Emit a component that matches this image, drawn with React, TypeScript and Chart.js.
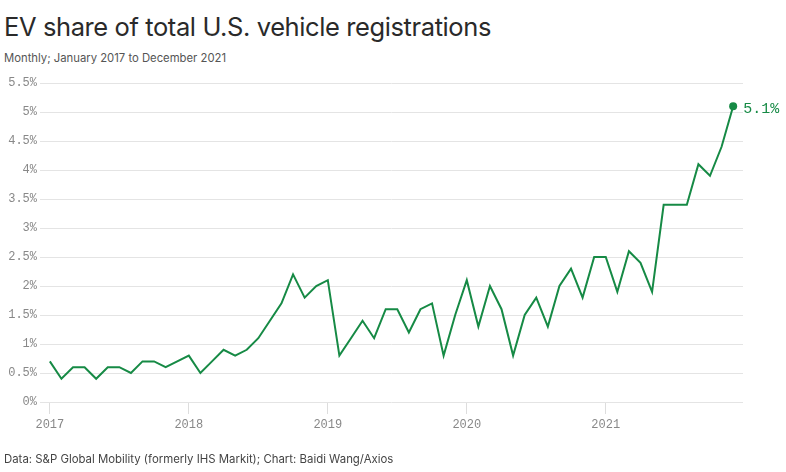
import React, { useEffect, useRef } from "react";
import { Chart, registerables } from "chart.js";

Chart.register(...registerables);

const months: number[] = Array.from({ length: 60 }, (_, i) => i);
const yearTickIndex: number[] = [0, 12, 24, 36, 48];
const yearLabels: string[] = ["2017", "2018", "2019", "2020", "2021"];

const share2017: number[] = [0.7, 0.4, 0.6, 0.6, 0.4, 0.6, 0.6, 0.5, 0.7, 0.7, 0.6, 0.7];
const share2018: number[] = [0.8, 0.5, 0.7, 0.9, 0.8, 0.9, 1.1, 1.4, 1.7, 2.2, 1.8, 2.0];
const share2019: number[] = [2.1, 0.8, 1.1, 1.4, 1.1, 1.6, 1.6, 1.2, 1.6, 1.7, 0.8, 1.5];
const share2020: number[] = [2.1, 1.3, 2.0, 1.6, 0.8, 1.5, 1.8, 1.3, 2.0, 2.3, 1.8, 2.5];
const share2021: number[] = [2.5, 1.9, 2.6, 2.4, 1.9, 3.4, 3.4, 3.4, 4.1, 3.9, 4.4, 5.1];
const evShare: number[] = [...share2017, ...share2018, ...share2019, ...share2020, ...share2021];

const GREEN = "#168a45";
const MONO = "'Liberation Mono', 'DejaVu Sans Mono', monospace";
const SANS = "Inter, 'Noto Sans', sans-serif";

export default function App() {
  const ref = useRef<HTMLCanvasElement | null>(null);

  useEffect(() => {
    if (!ref.current) return;
    const last = evShare.length - 1;
    const endLabel = {
      id: "endLabel",
      afterDatasetsDraw(chart: any) {
        const meta = chart.getDatasetMeta(0);
        const pt = meta.data[last];
        if (!pt) return;
        const c = chart.ctx;
        c.save();
        c.fillStyle = GREEN;
        c.font = "15px " + MONO;
        c.textAlign = "left";
        c.textBaseline = "middle";
        c.fillText(evShare[last].toFixed(1) + "%", pt.x + 10, pt.y + 3);
        c.restore();
      },
    };
    const chart = new Chart(ref.current, {
      type: "line",
      data: {
        datasets: [
          {
            data: months.map((m, i) => ({ x: m, y: evShare[i] })),
            borderColor: GREEN,
            backgroundColor: GREEN,
            borderWidth: 2,
            tension: 0,
            pointRadius: (ctx: any) => (ctx.dataIndex === last ? 4 : 0),
            pointHoverRadius: 0,
            pointBorderWidth: 0,
            clip: false as any,
          },
        ],
      },
      options: {
        animation: false,
        responsive: false,
        events: [],
        layout: { padding: { top: 83, right: 43, left: 0, bottom: 0 } },
        plugins: {
          legend: { display: false },
          tooltip: { enabled: false },
          title: { display: false },
        },
        scales: {
          x: {
            type: "linear",
            min: -0.85,
            max: 59.85,
            afterBuildTicks: (axis: any) => {
              axis.ticks = yearTickIndex.map((v) => ({ value: v }));
            },
            afterFit: (scale: any) => {
              scale.height = 70;
            },
            border: { display: false },
            grid: {
              drawOnChartArea: false,
              drawTicks: true,
              tickLength: 12,
              color: "#dddddd",
              lineWidth: 1,
            },
            ticks: {
              autoSkip: false,
              maxRotation: 0,
              padding: 4,
              color: "#888888",
              font: { family: MONO, size: 12 },
              callback: (v: any) => {
                const idx = yearTickIndex.indexOf(Number(v));
                return idx >= 0 ? yearLabels[idx] : "";
              },
            },
          },
          y: {
            min: 0,
            max: 5.5,
            afterFit: (scale: any) => {
              scale.width = 40;
            },
            border: { display: false },
            grid: { color: "#e4e4e4", lineWidth: 1, drawTicks: false },
            ticks: {
              stepSize: 0.5,
              padding: 3,
              color: "#888888",
              font: { family: MONO, size: 12 },
              callback: (v: any) => Number(v) + "%",
            },
          },
        },
      },
      plugins: [endLabel],
    } as any);
    return () => chart.destroy();
  }, []);

  return (
    <div
      style={{
        position: "fixed",
        left: 0,
        top: 0,
        width: 786,
        height: 472,
        background: "#ffffff",
        overflow: "hidden",
      }}
    >
      <div
        style={{
          position: "absolute",
          left: 4,
          top: 11,
          fontFamily: SANS,
          fontSize: 25.5,
          color: "#2a2a2a",
          whiteSpace: "nowrap",
          letterSpacing: -0.4,
        }}
      >
        EV share of total U.S. vehicle registrations
      </div>
      <div
        style={{
          position: "absolute",
          left: 4,
          top: 51,
          fontFamily: SANS,
          fontSize: 11.3,
          color: "#555555",
          whiteSpace: "nowrap",
        }}
      >
        Monthly; January 2017 to December 2021
      </div>
      <canvas
        ref={ref}
        width={786}
        height={472}
        style={{ position: "absolute", left: 0, top: 0, width: 786, height: 472 }}
      />
      <div
        style={{
          position: "absolute",
          left: 4,
          top: 452,
          fontFamily: SANS,
          fontSize: 11.4,
          color: "#444444",
          whiteSpace: "nowrap",
        }}
      >
        Data: S&amp;P Global Mobility (formerly IHS Markit); Chart: Baidi Wang/Axios
      </div>
    </div>
  );
}
